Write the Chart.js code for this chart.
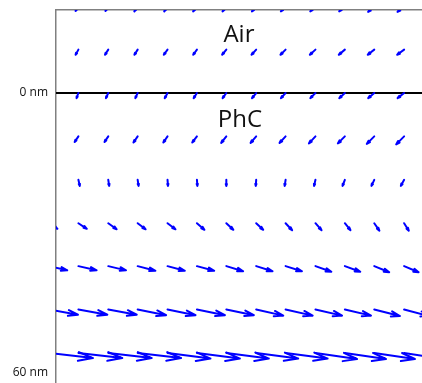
<!DOCTYPE html>
<html>
<head>
<meta charset="utf-8">
<script src="https://cdn.jsdelivr.net/npm/chart.js@4.4.1/dist/chart.umd.min.js"></script>
<style>
  html, body { margin: 0; padding: 0; background: #fff; }
  #wrap { width: 422px; height: 383px; position: relative; }
</style>
</head>
<body>
<div id="wrap"><canvas id="quiver"></canvas></div>
<script>
// --- Data (nm) ---
const colX = [-1.5, 4.8, 11.2, 17.5, 23.9, 30.2, 36.5, 42.9, 49.2, 55.6, 61.9, 68.2, 74.6];
const rowDepth = [-18.6, -9.3, 0, 9.3, 18.6, 27.9, 37.1, 46.4, 55.7];

// horizontal component, one row per depth, one entry per column
const uRows = [
  [-0.6, -0.6, -0.6, -0.7, -0.7, -0.8, -0.8, -0.9, -1.0, -1.1, -1.2, -1.3, -1.4],
  [-0.6, -0.6, -0.7, -0.7, -0.8, -0.8, -0.9, -1.0, -1.1, -1.2, -1.3, -1.4, -1.5],
  [-0.4, -0.4, -0.5, -0.5, -0.6, -0.7, -0.8, -0.9, -1.0, -1.1, -1.2, -1.3, -1.4],
  [-0.8, -0.8, -0.8, -0.9, -0.9, -1.0, -1.1, -1.2, -1.3, -1.4, -1.5, -1.6, -1.7],
  [0.3, 0.3, 0.2, 0.2, 0.1, 0.1, 0.0, -0.1, -0.2, -0.3, -0.5, -0.6, -0.7],
  [1.8, 1.8, 1.8, 1.7, 1.7, 1.6, 1.5, 1.5, 1.4, 1.3, 1.2, 1.1, 1.0],
  [3.9, 3.9, 3.8, 3.8, 3.7, 3.7, 3.6, 3.5, 3.5, 3.4, 3.3, 3.2, 3.1],
  [6.2, 6.2, 6.1, 6.1, 6.0, 6.0, 5.9, 5.8, 5.8, 5.7, 5.6, 5.5, 5.4],
  [9.4, 9.4, 9.3, 9.3, 9.2, 9.2, 9.1, 9.0, 9.0, 8.9, 8.8, 8.7, 8.6],
];

// vertical component (positive = deeper)
const vRows = [
  [1.0, 1.0, 1.0, 1.1, 1.1, 1.1, 1.1, 1.1, 1.1, 1.1, 1.1, 1.2, 1.2],
  [1.1, 1.1, 1.1, 1.1, 1.1, 1.1, 1.1, 1.1, 1.1, 1.1, 1.1, 1.1, 1.1],
  [1.1, 1.1, 1.1, 1.1, 1.1, 1.1, 1.1, 1.1, 1.1, 1.1, 1.1, 1.1, 1.1],
  [1.2, 1.2, 1.2, 1.3, 1.3, 1.3, 1.4, 1.4, 1.4, 1.5, 1.5, 1.6, 1.7],
  [1.3, 1.3, 1.3, 1.3, 1.3, 1.3, 1.3, 1.3, 1.3, 1.3, 1.3, 1.3, 1.3],
  [1.2, 1.2, 1.3, 1.3, 1.3, 1.4, 1.4, 1.4, 1.5, 1.5, 1.5, 1.6, 1.6],
  [0.9, 0.9, 0.9, 1.0, 1.0, 1.0, 1.1, 1.1, 1.1, 1.2, 1.2, 1.3, 1.3],
  [1.1, 1.1, 1.1, 1.2, 1.2, 1.2, 1.2, 1.3, 1.3, 1.3, 1.3, 1.4, 1.4],
  [1.1, 1.1, 1.1, 1.1, 1.2, 1.2, 1.2, 1.2, 1.2, 1.3, 1.3, 1.3, 1.3],
];

const depthTicks = [0, 60];
const interfaceDepth = 0;
const regionLabels = ["Air", "PhC"];

// --- Axis limits ---
const xMin = 0, xMax = 78.43;
const yMin = -17.79, yMax = 62.14;

Chart.defaults.font.family = "'Open Sans', 'DejaVu Sans', sans-serif";

// arrows drawn like a quiver plot, through the chart's scales
const quiverPlugin = {
  id: "quiver",
  afterDatasetsDraw(chart) {
    const { ctx, chartArea: a, scales: { x, y } } = chart;
    ctx.save();
    ctx.beginPath();
    ctx.rect(a.left, a.top, a.right - a.left, a.bottom - a.top);
    ctx.clip();
    ctx.strokeStyle = "#0000ff";
    ctx.lineWidth = 2;
    ctx.lineCap = "round";
    ctx.lineJoin = "round";
    const alpha = 0.33, beta = 0.3;
    rowDepth.forEach((d, r) => {
      colX.forEach((cx, c) => {
        const x0 = x.getPixelForValue(cx);
        const y0 = y.getPixelForValue(d);
        const x1 = x.getPixelForValue(cx + uRows[r][c]);
        const y1 = y.getPixelForValue(d + vRows[r][c]);
        const dx = x1 - x0, dy = y1 - y0;
        ctx.beginPath();
        ctx.moveTo(x0, y0);
        ctx.lineTo(x1, y1);
        ctx.moveTo(x1 - alpha * (dx + beta * dy), y1 - alpha * (dy - beta * dx));
        ctx.lineTo(x1, y1);
        ctx.lineTo(x1 - alpha * (dx - beta * dy), y1 - alpha * (dy + beta * dx));
        ctx.stroke();
      });
    });
    ctx.restore();

    // region names
    ctx.save();
    ctx.fillStyle = "#111";
    ctx.font = "24px 'Open Sans', sans-serif";
    ctx.textAlign = "center";
    ctx.textBaseline = "alphabetic";
    ctx.fillText(regionLabels[0], x.getPixelForValue(39.2), y.getPixelForValue(-10.9));
    ctx.fillText(regionLabels[1], x.getPixelForValue(39.4), y.getPixelForValue(7.3));
    ctx.restore();
  },
};

new Chart(document.getElementById("quiver"), {
  type: "line",
  data: {
    datasets: [
      {
        label: "interface",
        data: [{ x: xMin, y: interfaceDepth }, { x: xMax, y: interfaceDepth }],
        borderColor: "#000",
        borderWidth: 2,
        pointRadius: 0,
      },
    ],
  },
  options: {
    responsive: true,
    maintainAspectRatio: false,
    animation: false,
    layout: { padding: { top: 10, left: 0, right: 0, bottom: 0 } },
    plugins: { legend: { display: false }, tooltip: { enabled: false } },
    scales: {
      x: {
        type: "linear",
        position: "top",
        min: xMin,
        max: xMax,
        afterFit: (s) => {
          s.height = 0;
          s.paddingLeft = 0;
          s.paddingRight = 0;
        },
        grid: { display: false, drawTicks: false },
        border: { display: true, color: "#808080", width: 1.5 },
        ticks: { display: false },
      },
      y: {
        type: "linear",
        reverse: true,
        min: yMin,
        max: yMax,
        afterBuildTicks: (s) => { s.ticks = depthTicks.map((v) => ({ value: v })); },
        afterFit: (s) => {
          s.width = 56;
          s.paddingTop = 0;
          s.paddingBottom = 0;
        },
        grid: { display: false, drawTicks: false },
        border: { display: true, color: "#808080", width: 1.5 },
        ticks: {
          padding: 8,
          color: "#111",
          font: { size: 12 },
          callback: (v) => `${v} nm`,
        },
      },
    },
  },
  plugins: [quiverPlugin],
});
</script>
</body>
</html>
